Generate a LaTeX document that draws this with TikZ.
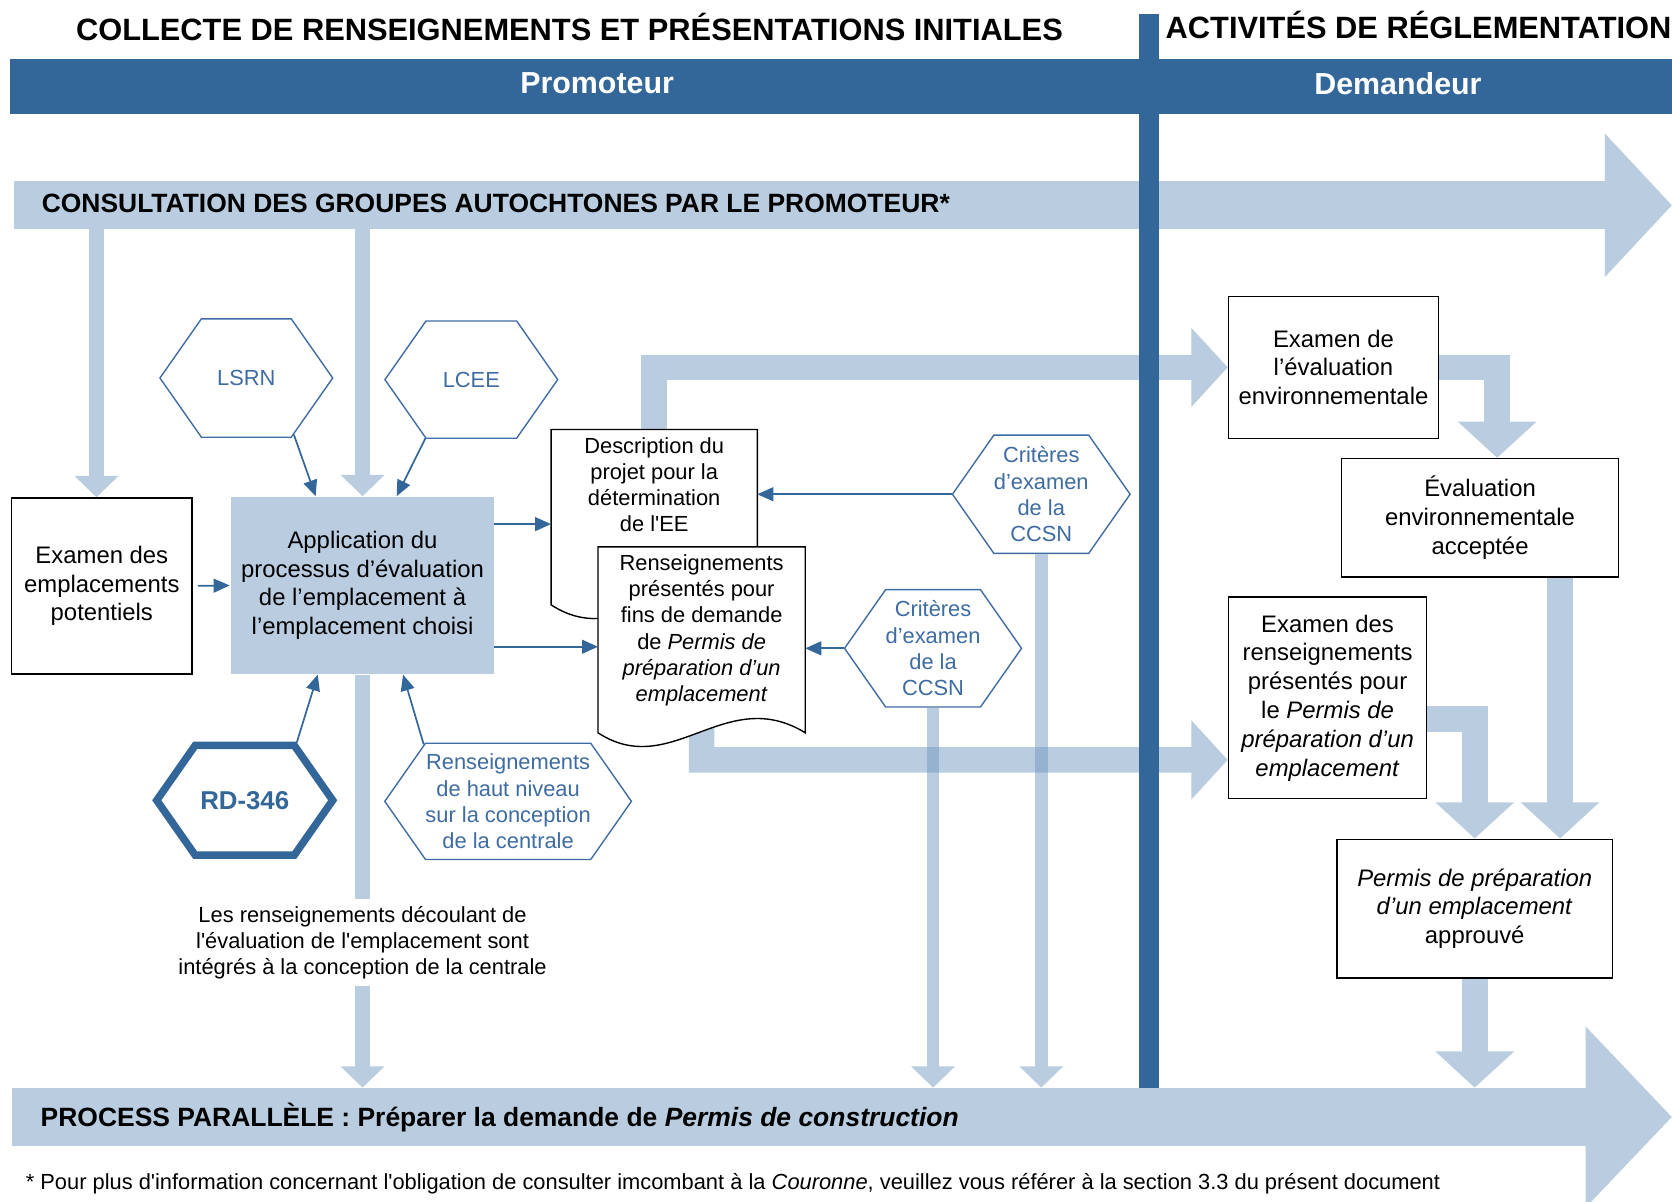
\documentclass[tikz,border=0pt]{standalone}
\usepackage{fontspec}
\setmainfont{Liberation Sans}
\usetikzlibrary{arrows.meta,positioning,shapes.symbols}

\definecolor{laneblue}{RGB}{51,102,153}
\definecolor{flowblue}{RGB}{185,204,224}
\definecolor{flowdeep}{RGB}{115,153,193}
\definecolor{hexblue}{RGB}{62,108,163}

\newcommand{\headsize}{\fontsize{28.9}{34}\selectfont\bfseries}
\newcommand{\lanesize}{\fontsize{28.5}{34}\selectfont\bfseries}
\newcommand{\bandsize}{\fontsize{24.8}{29}\selectfont\bfseries}
\newcommand{\boxsize}{\fontsize{22.4}{27}\selectfont}
\newcommand{\smallsize}{\fontsize{20.5}{24.6}\selectfont}
\newcommand{\footsize}{\fontsize{20.5}{24}\selectfont}
\newcommand{\sq}{\textquotesingle}

\begin{document}
\begin{tikzpicture}[x=1pt,y=-1pt,
    box/.style={draw=black,line width=1.3pt,fill=white,inner sep=0pt,align=center,font=\boxsize},
    hexa/.style={signal,signal to=east and west,signal pointer angle=110,draw=hexblue,line width=1.3pt,
        text=hexblue,fill=white,align=center,inner sep=0pt,font=\smallsize},
    docline/.style={draw=black,line width=1.3pt,fill=white},
    doctext/.style={align=center,inner sep=0pt,font=\smallsize},
    link/.style={draw=laneblue,line width=1.6pt,-{Triangle[width=13pt,length=15pt]}},
    flow/.style={draw=flowblue,line width=14pt,-{Triangle[width=40pt,length=20pt]}},
    wideflow/.style={draw=flowblue,line width=24pt,-{Triangle[width=72pt,length=34pt]}}]
    \useasboundingbox (0,0) rectangle (1568,1127);

    % lanes
    \fill[laneblue] (9,55) rectangle (1568,107);
    \node[font=\headsize] (collecte) at (534,25) {COLLECTE DE RENSEIGNEMENTS ET PRÉSENTATIONS INITIALES};
    \node[font=\headsize,anchor=west,inner sep=0pt] (activ) at (1093,23) {ACTIVITÉS DE RÉGLEMENTATION};
    \node[font=\lanesize,text=white] (promo) at (560,78) {Promoteur};
    \node[font=\lanesize,text=white] (deman) at (1311,78) {Demandeur};

    % big bands
    \draw[draw=flowblue,line width=45pt,-{Triangle[width=131pt,length=63pt]}] (13,192.5) -- (1568,192.5);
    \draw[draw=flowblue,line width=55pt,-{Triangle[width=165pt,length=81pt]}] (11,1047.5) -- (1568,1047.5);
    \node[font=\bandsize,anchor=west,inner sep=0pt] (consult) at (39,191) {CONSULTATION DES GROUPES AUTOCHTONES PAR LE PROMOTEUR*};
    \node[font=\bandsize,anchor=west,inner sep=0pt] (proc) at (38,1048) {PROCESS PARALLÈLE : Préparer la demande de \textit{Permis de construction}};
    \coordinate (consbot) at (0,215);
    \coordinate (proctop) at (0,1020);

    % boxes
    \node[box,minimum width=169pt,minimum height=165pt] (exa) at (95.5,549.5) {Examen des\\emplacements\\potentiels};
    \node[box,draw=none,fill=flowblue,minimum width=246pt,minimum height=166pt] (app) at (340,549)
        {Application du\\processus d’évaluation\\de l’emplacement à\\l’emplacement choisi};
    \node[box,minimum width=197pt,minimum height=133pt] (ee) at (1250.5,344.5) {Examen de\\l’évaluation\\environnementale};
    \node[box,minimum width=260pt,minimum height=111pt] (eva) at (1388,485.5) {Évaluation\\environnementale\\acceptée};
    \node[box,minimum width=186pt,minimum height=189pt] (exrp) at (1245,654.5)
        {Examen des\\renseignements\\présentés pour\\le \textit{Permis de}\\\textit{préparation d’un}\\\textit{emplacement}};
    \node[box,minimum width=258pt,minimum height=130pt] (permit) at (1383,852)
        {\textit{Permis de préparation}\\\textit{d’un emplacement}\\approuvé};

    % hexagons
    \node[hexa,minimum width=162pt,minimum height=111pt] (lsrn) at (231,354.5) {LSRN};
    \node[hexa,minimum width=162pt,minimum height=110pt] (lcee) at (442,356) {LCEE};
    \node[hexa,minimum width=163pt,minimum height=111pt] (crit1) at (976.5,463.5) {Critères\\d’examen\\de la\\CCSN};
    \node[hexa,minimum width=166pt,minimum height=110pt] (crit2) at (875,608) {Critères\\d’examen\\de la\\CCSN};
    \node[hexa,draw=laneblue,text=laneblue,line width=7pt,minimum width=165pt,minimum height=103pt,
        font=\fontsize{24.2}{29}\selectfont\bfseries] (rd) at (229.5,750.5) {RD-346};
    \node[hexa,minimum width=229pt,minimum height=109pt] (haut) at (476.5,751.5)
        {Renseignements\\de haut niveau\\sur la conception\\de la centrale};

    % documents (outlines drawn later)
    \node[minimum width=193pt,minimum height=177pt,inner sep=0pt] (desc) at (613.5,491.5) {};
    \node[minimum width=194pt,minimum height=187pt,inner sep=0pt] (ren) at (658,606.5) {};

    \node[align=center,font=\smallsize,inner ysep=6pt] (note) at (340,884)
        {Les renseignements découlant de\\l\sq évaluation de l\sq emplacement sont\\intégrés à la conception de la centrale};

    % thick flows
    \draw[flow] ([xshift=-5pt]exa.north |- consbot) -- ([xshift=-5pt]exa.north);
    \draw[flow] (app.north |- consbot) -- (app.north);
    \draw[flowblue,line width=14pt] (app.south) -- (note.north);
    \draw[flow] (note.south) -- (note.south |- proctop);
    \draw[flow,line width=12pt] (crit1.south) -- (crit1.south |- proctop);
    \draw[flow,line width=12pt] (crit2.south) -- (crit2.south |- proctop);
    \draw[wideflow] (desc.center) |- (ee.west);
    \coordinate (evain) at ([xshift=16pt]eva.north);
    \draw[wideflow] (ee.east) -| (evain);
    \coordinate (evaout) at ([xshift=75pt]eva.south);
    \draw[wideflow] (evaout) -- (evaout |- permit.north);
    \coordinate (exrpout) at ([yshift=-20pt]exrp.east);
    \draw[wideflow] (exrpout) -| (permit.north);
    \draw[wideflow] (permit.south) -- (permit.south |- proctop);
    \coordinate (exrpin) at ([yshift=37pt]exrp.south west);
    \begin{scope}[transparency group,opacity=.5]
        \draw[wideflow,draw=flowdeep] (ren.center) |- (exrpin);
    \end{scope}

    % document outlines
    \filldraw[docline] (desc.north west) -- (desc.north east) -- ([yshift=13pt]desc.south east)
        .. controls +(-75,-46) and +(69,45) .. ([yshift=13pt]desc.south west) -- cycle;
    \node[doctext,anchor=north] (desctxt) at ([yshift=-7pt]desc.north) {Description du\\projet pour la\\détermination\\de l\sq EE};
    \filldraw[docline] (ren.north west) -- (ren.north east) -- ([yshift=13pt]ren.south east)
        .. controls +(-75,-46) and +(69,45) .. ([yshift=13pt]ren.south west) -- cycle;
    \node[doctext,anchor=north] (rentxt) at ([yshift=-7pt]ren.north)
        {Renseignements\\présentés pour\\fins de demande\\de \textit{Permis de}\\\textit{préparation d’un}\\\textit{emplacement}};

    % thin links
    \draw[link,shorten <=5pt,shorten >=1pt] (exa.east) -- (app.west);
    \draw[link] (app.east |- desc.west) -- (desc.west);
    \draw[link] (app.east |- ren.west) -- (ren.west);
    \draw[link] (crit1.west) -- (crit1.west -| desc.east);
    \draw[link] (crit2.west) -- (crit2.west -| ren.east);
    \draw[link] (lsrn.-50) -- ([xshift=-44pt]app.north);
    \draw[link] (lcee.-128) -- ([xshift=32pt]app.north);
    \draw[link] (rd.48) -- ([xshift=-42pt]app.south);
    \draw[link] (haut.146) -- ([xshift=38pt]app.south);

    \node[font=\footsize,anchor=west,inner sep=0pt] (foot) at (24,1110)
        {* Pour plus d\sq information concernant l\sq obligation de consulter imcombant à la \textit{Couronne}, veuillez vous référer à la section 3.3 du présent document};

    % divider
    \fill[laneblue] (1068,13) rectangle (1087,1020);
\end{tikzpicture}
\end{document}
